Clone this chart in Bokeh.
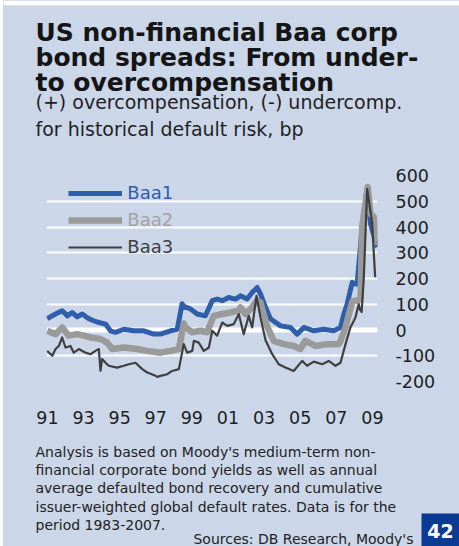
from bokeh.plotting import figure
from bokeh.layouts import column, row
from bokeh.models import Range1d, FixedTicker, Label, Legend, LegendItem, Span, BoxAnnotation, Spacer
from bokeh.embed import file_html
from bokeh.resources import INLINE

# ---------------- data ----------------
baa1_year = [1990.99, 1991.45, 1991.82, 1992.10, 1992.37, 1992.65, 1992.93, 1993.29, 1993.57,
             1993.85, 1994.22, 1994.49, 1994.77, 1995.23, 1995.78, 1996.34, 1996.89, 1997.26,
             1997.82, 1998.19, 1998.46, 1998.55, 1998.92, 1999.29, 1999.75, 2000.13, 2000.40,
             2000.68, 2001.04, 2001.42, 2001.69, 2002.06, 2002.34, 2002.62, 2002.80, 2003.08,
             2003.35, 2003.91, 2004.46, 2004.83, 2005.20, 2005.75, 2006.30, 2006.86, 2007.23,
             2007.41, 2007.60, 2007.88, 2007.97, 2008.15, 2008.43, 2008.71, 2008.89, 2009.26]
baa1_bp = [44, 62, 75, 55, 68, 51, 62, 44, 36,
           29, 23, -3, -9, 3, -3, -3, -16, -16,
           -3, 3, 102, 92, 82, 62, 55, 114, 120,
           114, 126, 120, 133, 120, 146, 165, 140, 88,
           44, 16, 10, -16, 10, -3, 3, -3, 10,
           60, 101, 185, 180, 178, 399, 548, 413, 321]

baa2_year = [1990.99, 1991.45, 1991.82, 1992.18, 1992.65, 1993.02, 1993.39, 1993.94, 1994.31,
             1994.59, 1995.23, 1995.97, 1996.53, 1997.26, 1997.82, 1998.28, 1998.55, 1998.65,
             1999.02, 1999.48, 1999.85, 2000.21, 2000.68, 2001.14, 2001.60, 2001.69, 2001.97,
             2002.34, 2002.58, 2002.80, 2002.89, 2003.17, 2003.54, 2004.09, 2004.64, 2005.01,
             2005.29, 2005.84, 2006.49, 2007.14, 2007.23, 2007.51, 2007.60, 2007.88, 2008.34,
             2008.43, 2008.74, 2008.89, 2009.07, 2009.26]
baa2_bp = [-3, -16, 10, -22, -16, -22, -29, -35, -49,
           -74, -68, -74, -81, -88, -81, -74, 25, 10,
           -9, -3, -9, 55, 62, 68, 75, 88, 62,
           88, 114, 107, 82, 13, -42, -55, -62, -74,
           -42, -62, -55, -55, -42, 10, 36, 110, 120,
           399, 555, 451, 440, 330]

baa3_year = [1990.99, 1991.27, 1991.45, 1991.63, 1991.82, 1992.00, 1992.28, 1992.46, 1992.74,
             1993.11, 1993.39, 1993.66, 1993.85, 1993.94, 1994.03, 1994.22, 1994.40, 1994.86,
             1995.23, 1995.51, 1995.88, 1996.25, 1996.53, 1996.99, 1997.08, 1997.26, 1997.63,
             1997.91, 1998.28, 1998.55, 1998.74, 1999.02, 1999.11, 1999.38, 1999.66, 1999.94,
             2000.13, 2000.40, 2000.68, 2000.96, 2001.32, 2001.60, 2001.87, 2002.15, 2002.34,
             2002.58, 2002.80, 2003.08, 2003.45, 2003.81, 2004.18, 2004.64, 2005.11, 2005.38,
             2005.75, 2006.22, 2006.58, 2006.95, 2007.23, 2007.51, 2007.78, 2008.06, 2008.24,
             2008.30, 2008.40, 2008.52, 2008.71, 2008.98, 2009.15]
baa3_bp = [-81, -100, -74, -62, -29, -68, -62, -88, -74,
           -88, -94, -81, -74, -159, -113, -127, -139, -146,
           -139, -133, -127, -152, -165, -178, -182, -178, -172,
           -159, -152, -55, -88, -81, -42, -49, -81, -68,
           -3, -22, 29, 16, 23, 62, -16, 55, 10,
           133, 49, -40, -94, -133, -146, -159, -120, -139,
           -123, -133, -120, -139, -127, -55, 10, 49, 101,
           80, 70, 200, 548, 418, 205]

series_names = ["Baa1", "Baa2", "Baa3"]
x_ticks = [1991, 1993, 1995, 1997, 1999, 2001, 2003, 2005, 2007, 2009]
x_tick_labels = ["91", "93", "95", "97", "99", "01", "03", "05", "07", "09"]
y_ticks = [-200, -100, 0, 100, 200, 300, 400, 500, 600]
y_tick_labels = ["-200", "-100", "0", "100", "200", "300", "400", "500", "600"]

title_lines = ["US non-financial Baa corp", "bond spreads: From under-", "to overcompensation"]
subtitle_lines = ["(+) overcompensation, (-) undercomp.", "for historical default risk, bp"]
note_lines = ["Analysis is based on Moody's medium-term non-",
              "financial corporate bond yields as well as annual",
              "average defaulted bond recovery and cumulative",
              "issuer-weighted global default rates. Data is for the",
              "period 1983-2007."]
source_text = "Sources: DB Research, Moody's"
badge_text = "42"

# ---------------- styling ----------------
BG = "#cbd6e8"
C1, C2, C3 = "#2f5fab", "#9a9a9a", "#3f3f3f"
FONT = "DejaVu Sans"
X0 = 3                                      # white strip at the left of the panel
W = 459 - X0
HEAD_H, CHART_H, FOOT_H = 148, 290, 108     # 148 + 290 + 108 = 546
TOP_WHITE = 5


def text_panel(y_top, height, top_border=0):
    """A plain panel whose data space is page pixels (y grows downwards)."""
    f = figure(width=W, height=height, output_backend="svg", toolbar_location=None,
               x_range=Range1d(X0, X0 + W), y_range=Range1d(y_top + height, y_top + top_border),
               x_axis_type=None, y_axis_type=None, min_border=0, min_border_top=top_border,
               frame_align=False)
    f.background_fill_color = BG
    f.border_fill_color = "white" if top_border else BG
    f.outline_line_color = None
    f.xgrid.visible = False
    f.ygrid.visible = False
    return f


def lab(text, x, y, size, color, bold=False, align="left", baseline="alphabetic"):
    return Label(x=x, y=y, text=text, text_font=FONT, text_font_size=size, text_color=color,
                 text_font_style="bold" if bold else "normal",
                 text_align=align, text_baseline=baseline)


# ---------------- header ----------------
head = text_panel(0, HEAD_H, top_border=TOP_WHITE)
for i, t in enumerate(title_lines):
    head.add_layout(lab(t, 35, 31.7 + 25 * i, "25px", "#151515", bold=True))
for t, y in zip(subtitle_lines, [101.7, 128.5]):
    head.add_layout(lab(t, 35, y, "19px", "#1f1f1f"))

# ---------------- chart ----------------
FL, FR, FT, FB = 46, 377, 175, 381          # frame edges in page pixels
p = figure(width=W, height=CHART_H, output_backend="svg", toolbar_location=None,
           x_range=Range1d(1990.95, 2009.28), y_range=Range1d(-200, 600),
           y_axis_location="right", frame_align=False,
           min_border_left=FL - X0, min_border_right=X0 + W - FR,
           min_border_top=FT - HEAD_H, min_border_bottom=HEAD_H + CHART_H - FB)
p.background_fill_color = None
p.border_fill_color = BG
p.outline_line_color = None

p.xgrid.visible = False
p.ygrid.ticker = FixedTicker(ticks=y_ticks)
p.ygrid.grid_line_color = "white"
p.ygrid.grid_line_width = 2
p.add_layout(Span(location=0, dimension="width", line_color="white", line_width=5, level="underlay"))

xa = p.xaxis[0]
xa.ticker = FixedTicker(ticks=x_ticks)
xa.major_label_overrides = {t: s for t, s in zip(x_ticks, x_tick_labels)}
xa.axis_line_color = None
xa.major_tick_line_color = None
xa.minor_tick_line_color = None
xa.major_tick_out = 0
xa.major_label_standoff = 29
xa.major_label_text_font = FONT
xa.major_label_text_font_size = "17.5px"
xa.major_label_text_color = "#1e1e1e"

ya = p.yaxis[0]
ya.ticker = FixedTicker(ticks=y_ticks)
ya.major_label_overrides = {t: s for t, s in zip(y_ticks, y_tick_labels)}
ya.axis_line_color = None
ya.major_tick_line_color = None
ya.minor_tick_line_color = None
ya.major_tick_out = 0
ya.major_label_standoff = 18
ya.major_label_text_font = FONT
ya.major_label_text_font_size = "17.5px"
ya.major_label_text_color = "#1e1e1e"

r1 = p.line(baa1_year, baa1_bp, line_color=C1, line_width=5, line_join="round")
r2 = p.line(baa2_year, baa2_bp, line_color=C2, line_width=6.5, line_join="round")
r3 = p.line(baa3_year, baa3_bp, line_color=C3, line_width=2.2, line_join="round")

leg_centre_y = [193.3, 220.0, 247.3]        # page pixels
text_cols = [C1, "#a3a3a3", C3]
for name, r, cy, tc in zip(series_names, [r1, r2, r3], leg_centre_y, text_cols):
    lg = Legend(items=[LegendItem(label=name, renderers=[r])],
                location=(68.3 - FL, FB - cy - 10),
                glyph_width=54, glyph_height=20, label_height=20, label_standoff=5,
                padding=0, margin=0, spacing=0,
                background_fill_alpha=0, border_line_color=None,
                label_text_font=FONT, label_text_font_size="18px", label_text_color=tc)
    p.add_layout(lg)

# ---------------- footer ----------------
foot = text_panel(HEAD_H + CHART_H, FOOT_H)
for i, t in enumerate(note_lines):
    foot.add_layout(lab(t, 35, 451.7 + 18.1 * i, "14px", "#222222"))
foot.add_layout(lab(source_text, 413, 538, "14px", "#222222", align="right"))
foot.add_layout(BoxAnnotation(left=421, right=X0 + W, top=513, bottom=546,
                              fill_color="#0b3a95", fill_alpha=1, line_color=None))
foot.add_layout(lab(badge_text, 440, 530, "19px", "white", bold=True, align="center", baseline="middle"))

panel = column(head, p, foot, spacing=0, styles={"background-color": BG})
layout = row(Spacer(width=X0, height=546), panel, spacing=0)
open("out.html", "w").write(file_html(layout, INLINE))
